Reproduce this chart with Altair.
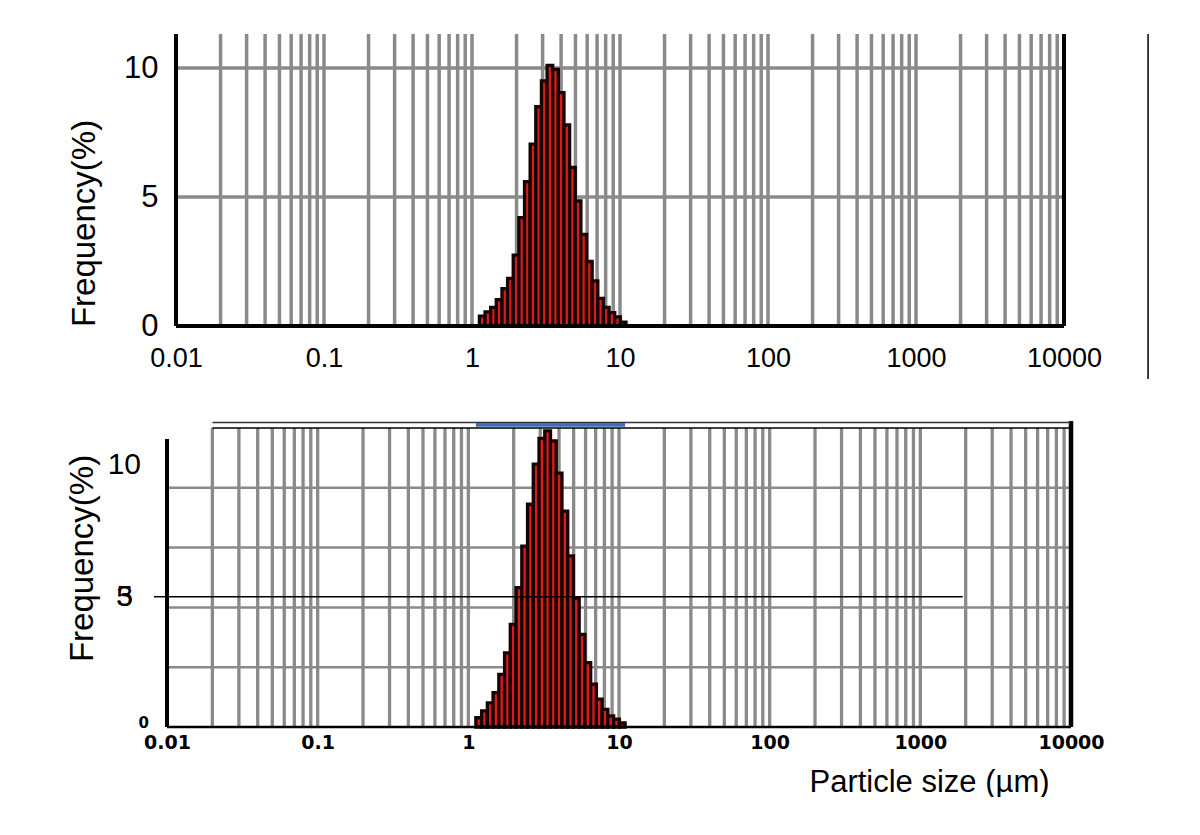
import altair as alt
import pandas as pd

# ---------------- data ----------------
BIN_EDGES = [1.122, 1.225, 1.337, 1.459, 1.594, 1.740, 1.899, 2.074, 2.264, 2.471,
             2.698, 2.945, 3.216, 3.510, 3.832, 4.183, 4.567, 4.985, 5.442, 5.941,
             6.486, 7.081, 7.730, 8.438, 9.213, 10.06, 10.98]
TOP_FREQ = [0.38, 0.55, 0.72, 1.02, 1.45, 1.85, 2.75, 4.2, 5.6, 7.05, 8.5, 9.5, 10.1,
            9.95, 9.05, 7.8, 6.15, 4.85, 3.55, 2.5, 1.75, 1.07, 0.72, 0.52, 0.35, 0.15]
BOTTOM_FREQ = [0.31, 0.54, 0.81, 1.15, 1.76, 2.48, 3.43, 4.66, 6.05, 7.45, 8.79, 9.65, 9.9,
               9.57, 8.49, 7.22, 5.72, 4.31, 3.1, 2.15, 1.43, 0.93, 0.59, 0.37, 0.26, 0.14]
X_TICKS = [0.01, 0.1, 1, 10, 100, 1000, 10000]
GRID_X = [k * 10.0 ** n for n in range(-2, 4) for k in range(1, 10)] + [10000.0]
TOP_Y_TICKS = [0, 5, 10]
BOTTOM_Y_GRID = [2, 4, 6, 8]
BOTTOM_Y_LABELS = ["10", "5", "3"]

GRID = "#8a8a8a"
BAR_FILL = "#d81c1c"
BAR_STROKE = "#160202"

# ---------------- scales ----------------
TOP_LO = 10 ** (-2 - 9 / 148)
TOP_HI_Y = 11.32
top_x = alt.Scale(type="log", domain=[TOP_LO, 10000], nice=False)
top_y = alt.Scale(domain=[0, TOP_HI_Y], nice=False, zero=False)
bot_x = alt.Scale(type="log", domain=[0.01, 10000], nice=False)
BOT_HI_Y = 10.2
bot_y = alt.Scale(domain=[0, BOT_HI_Y], nice=False, zero=False)

bars_top = pd.DataFrame({"lo": BIN_EDGES[:-1], "hi": BIN_EDGES[1:], "f": TOP_FREQ, "zero": 0.0})
bars_bot = pd.DataFrame({"lo": BIN_EDGES[:-1], "hi": BIN_EDGES[1:], "f": BOTTOM_FREQ, "zero": 0.0})

# ================= TOP PANEL =================
top_axis_x = alt.Axis(values=X_TICKS, format="~g", grid=False, ticks=False, domain=False,
                      labelFont="Liberation Sans", labelFontSize=27, labelPadding=19,
                      labelFlush=False, labelOverlap=False, labelColor="black", title=None)
top_axis_y = alt.Axis(values=TOP_Y_TICKS, grid=False, ticks=False, domain=False,
                      labelFont="Liberation Sans", labelFontSize=31, labelPadding=9,
                      labelColor="black", title="Frequency(%)", titleFont="Liberation Sans",
                      titleFontSize=33, titleFontWeight="normal", titleColor="black",
                      titleX=-73, titleY=189, titleAngle=270, titleBaseline="alphabetic",
                      titleAlign="center")


def TX(f):
    return alt.X(f, scale=top_x, axis=top_axis_x)


def TY(f):
    return alt.Y(f, scale=top_y, axis=top_axis_y)


t_vgrid = alt.Chart(pd.DataFrame({"x": GRID_X[1:-1], "y0": 0.0, "y1": TOP_HI_Y})).mark_rule(
    color=GRID, strokeWidth=3.5).encode(x=TX("x:Q"), y=TY("y0:Q"), y2="y1:Q")

t_hgrid = alt.Chart(pd.DataFrame({"y": [5, 10], "x0": 0.01, "x1": 10000})).mark_rule(
    color=GRID, strokeWidth=3.5).encode(x=TX("x0:Q"), x2="x1:Q", y=TY("y:Q"))

t_bars = alt.Chart(bars_top).mark_rect(fill=BAR_FILL, stroke=BAR_STROKE, strokeWidth=3.3).encode(
    x=TX("lo:Q"), x2="hi:Q", y=TY("f:Q"), y2="zero:Q")

t_frame_v = alt.Chart(pd.DataFrame({"x": [0.01, 10000], "y0": 0.0, "y1": TOP_HI_Y})).mark_rule(
    color="black", strokeWidth=4).encode(x=TX("x:Q"), y=TY("y0:Q"), y2="y1:Q")

t_frame_h = alt.Chart(pd.DataFrame({"y": [0.0], "x0": 0.01, "x1": 10000})).mark_rule(
    color="black", strokeWidth=4).encode(x=TX("x0:Q"), x2="x1:Q", y=TY("y:Q"))

# stray separator line at the right of the upper picture
t_stray = alt.Chart(pd.DataFrame({"x": [36980.0], "y0": -2.05, "y1": TOP_HI_Y})).mark_rule(
    color="black", strokeWidth=1.5).encode(x=TX("x:Q"), y=TY("y0:Q"), y2="y1:Q")

# invisible anchor fixing the page's top-left corner
t_anchor = alt.Chart(pd.DataFrame({"x0": [7.44e-4], "x1": [8.0e-4], "y": [12.29]})).mark_rule(
    color="white", strokeWidth=0.5).encode(x=TX("x0:Q"), x2="x1:Q", y=TY("y:Q"))

top = alt.layer(t_vgrid, t_hgrid, t_bars, t_frame_v, t_frame_h, t_stray, t_anchor).properties(
    width=897, height=292)

# ================= BOTTOM PANEL =================
bot_axis_x = alt.Axis(values=X_TICKS, format="~g", grid=False, ticks=False, domain=False,
                      labelFont="DejaVu Sans", labelFontWeight="bold", labelFontSize=19,
                      labelPadding=6, labelFlush=False, labelOverlap=False, labelColor="black",
                      title="Particle size (µm)", titleFont="Liberation Sans", titleFontSize=31,
                      titleFontWeight="normal", titleColor="black", titleX=762, titleY=64,
                      titleBaseline="alphabetic", titleAlign="center")
bot_axis_y = alt.Axis(labels=False, grid=False, ticks=False, domain=False,
                      title="Frequency(%)", titleFont="Liberation Sans", titleFontSize=33,
                      titleFontWeight="normal", titleColor="black", titleX=-75, titleY=136,
                      titleAngle=270, titleBaseline="alphabetic", titleAlign="center")


def BX(f):
    return alt.X(f, scale=bot_x, axis=bot_axis_x)


def BY(f):
    return alt.Y(f, scale=bot_y, axis=bot_axis_y)


b_vgrid = alt.Chart(pd.DataFrame({"x": GRID_X[1:-1], "y0": 0.0, "y1": 10.0})).mark_rule(
    color=GRID, strokeWidth=3.3).encode(x=BX("x:Q"), y=BY("y0:Q"), y2="y1:Q")

b_hgrid = alt.Chart(pd.DataFrame({"y": BOTTOM_Y_GRID, "x0": 0.01, "x1": 10000})).mark_rule(
    color=GRID, strokeWidth=2.5).encode(x=BX("x0:Q"), x2="x1:Q", y=BY("y:Q"))

b_bars = alt.Chart(bars_bot).mark_rect(fill=BAR_FILL, stroke=BAR_STROKE, strokeWidth=3.3).encode(
    x=BX("lo:Q"), x2="hi:Q", y=BY("f:Q"), y2="zero:Q")

b_thin = alt.Chart(pd.DataFrame({"y": [4.36], "x0": [0.0082], "x1": [1914.0]})).mark_rule(
    color="black", strokeWidth=1.5).encode(x=BX("x0:Q"), x2="x1:Q", y=BY("y:Q"))

b_left = alt.Chart(pd.DataFrame({"x": [0.01], "y0": [0.0], "y1": [9.63]})).mark_rule(
    color="black", strokeWidth=4).encode(x=BX("x:Q"), y=BY("y0:Q"), y2="y1:Q")

b_right = alt.Chart(pd.DataFrame({"x": [10000.0], "y0": [0.0], "y1": [10.23]})).mark_rule(
    color="black", strokeWidth=4.5).encode(x=BX("x:Q"), y=BY("y0:Q"), y2="y1:Q")

b_base = alt.Chart(pd.DataFrame({"y": [0.0], "x0": [0.01], "x1": [10000.0]})).mark_rule(
    color="black", strokeWidth=2.5).encode(x=BX("x0:Q"), x2="x1:Q", y=BY("y:Q"))

b_top = alt.Chart(pd.DataFrame({"y": [10.18, 10.0], "x0": 0.02, "x1": 10000.0,
                                "c": ["#333333", "#000000"]})).mark_rule(strokeWidth=1.5).encode(
    x=BX("x0:Q"), x2="x1:Q", y=BY("y:Q"), color=alt.Color("c:N", scale=None))

b_blue = alt.Chart(pd.DataFrame({"x0": [BIN_EDGES[0]], "x1": [BIN_EDGES[-1]],
                                 "y0": [10.04], "y1": [10.17]})).mark_rect(color="#3d6cc0").encode(
    x=BX("x0:Q"), x2="x1:Q", y=BY("y0:Q"), y2="y1:Q")

b_labels = alt.Chart(pd.DataFrame({"t": BOTTOM_Y_LABELS, "x": [0.006721, 0.005944, 0.005944],
                                   "y": [8.76, 4.36, 4.36]})).mark_text(
    font="Liberation Sans", fontSize=30, align="right", baseline="middle", color="black").encode(
    x=BX("x:Q"), y=BY("y:Q"), text="t:N")

b_zero = alt.Chart(pd.DataFrame({"t": ["0"], "x": [0.007595], "y": [0.14]})).mark_text(
    font="DejaVu Sans", fontWeight="bold", fontSize=15, align="right", baseline="middle",
    color="black").encode(x=BX("x:Q"), y=BY("y:Q"), text="t:N")

bottom = alt.layer(b_vgrid, b_hgrid, b_bars, b_thin, b_left, b_right, b_base, b_top, b_blue,
                   b_labels, b_zero).properties(width=904, height=305)

chart = alt.vconcat(top, bottom, spacing=96, bounds="flush").properties(
    padding=0, background="white").configure_view(stroke=None)

chart.save("out.html", embed_options={"renderer": "svg", "actions": False})
